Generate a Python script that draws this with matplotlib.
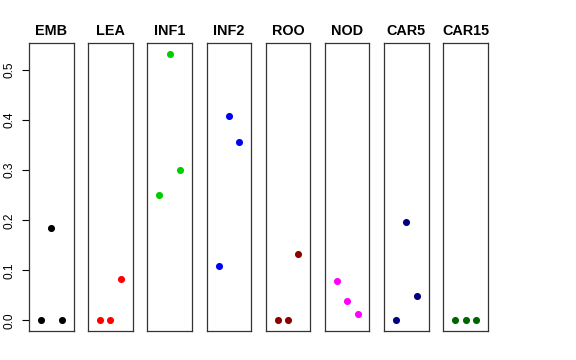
import numpy as np
import matplotlib
matplotlib.use("Agg")
import matplotlib.pyplot as plt

plt.rcParams['font.family'] = ['Liberation Sans', 'DejaVu Sans']

# tissue panels, three values each (x positions 1,2,3)
tissues = ["EMB", "LEA", "INF1", "INF2", "ROO", "NOD", "CAR5", "CAR15"]
values = {
    "EMB":   [0.0, 0.184, 0.0],
    "LEA":   [0.0, 0.0, 0.082],
    "INF1":  [0.250, 0.533, 0.301],
    "INF2":  [0.108, 0.408, 0.357],
    "ROO":   [0.0, 0.0, 0.133],
    "NOD":   [0.079, 0.039, 0.012],
    "CAR5":  [0.0, 0.197, 0.049],
    "CAR15": [0.0, 0.0, 0.0],
}
colours = ["black", "#FF0000", "#00CD00", "#0000FF", "#8B0000", "#FF00FF", "#000080", "#006400"]
yticks = [0.0, 0.1, 0.2, 0.3, 0.4, 0.5]

W, H = 576, 360
fig = plt.figure(figsize=(W / 100, H / 100), dpi=100)

ymax = max(max(v) for v in values.values())
ylim = (0 - 0.04 * ymax, ymax + 0.04 * ymax)
xlim = (0 - 0.16, 4 + 0.16)

left0, step, pw = 29.0, 59.19, 44.5
bottom, ph = 29.0, 288.0

for i, t in enumerate(tissues):
    ax = fig.add_axes([(left0 + i * step) / W, bottom / H, pw / W, ph / H])
    ax.scatter([1, 2, 3], values[t], s=26, color=colours[i], zorder=3, linewidths=0)
    ax.set_xlim(*xlim)
    ax.set_ylim(*ylim)
    ax.set_xticks([])
    ax.set_title(t, fontsize=10.4, fontweight="bold", pad=6)
    for sp in ax.spines.values():
        sp.set_linewidth(0.9)
        sp.set_color("#333333")
    if i == 0:
        ax.set_yticks(yticks)
        ax.set_yticklabels(["%.1f" % y for y in yticks], rotation=90, va="center", fontsize=8.6)
        ax.tick_params(axis="y", length=5, width=0.8, pad=5)
    else:
        ax.set_yticks([])

fig.savefig("out.png", dpi=100)
